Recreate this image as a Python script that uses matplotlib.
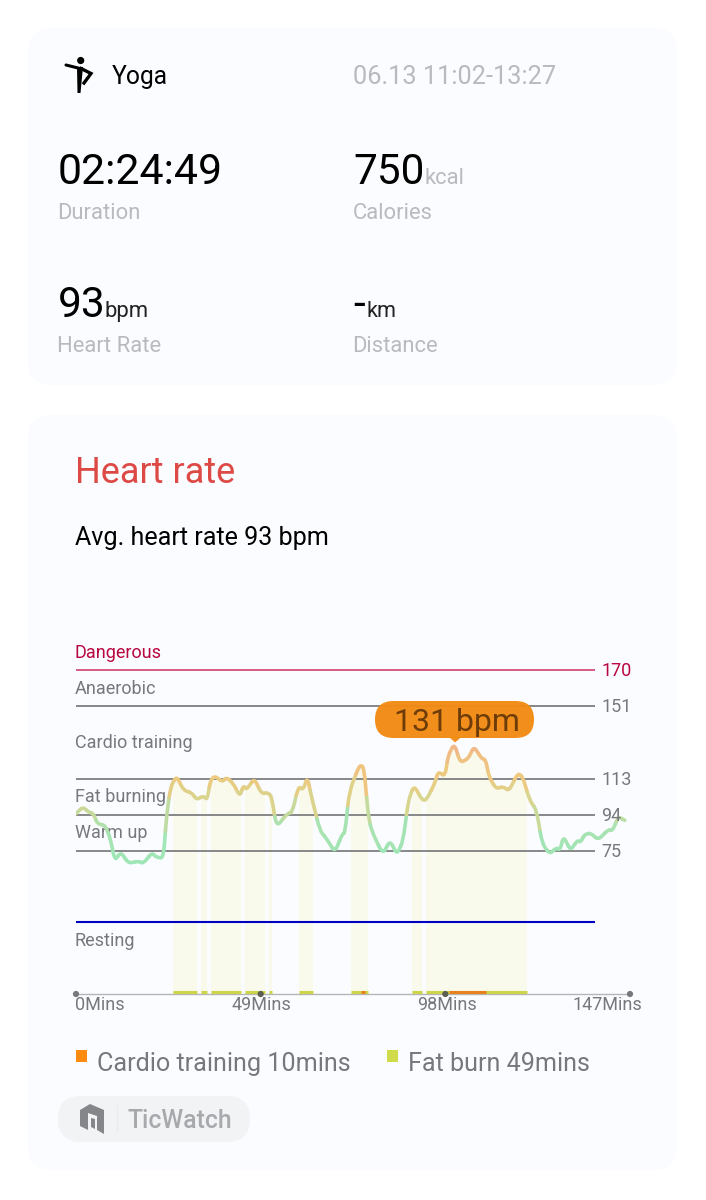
"""
Heart rate workout screen, yoga session
"""
import numpy as np
import matplotlib
matplotlib.use("Agg")
import matplotlib.pyplot as plt
from matplotlib.collections import PathCollection
from matplotlib.colors import LinearSegmentedColormap, Normalize
from matplotlib.patches import Circle, FancyBboxPatch, Polygon, Rectangle
from matplotlib.path import Path

plt.rcParams['font.family'] = ['Roboto', 'DejaVu Sans']

# heart rate curve
minutes = [0, 1.8, 3.3, 4.6, 5.7, 7.7, 9.0, 10.3, 11.9, 13.9, 16.5, 17.9, 20.1, 21.4, 23.2, 24.0,
           25.1, 26.7, 28.5, 30.7, 32.0, 33.8, 34.8, 35.7, 36.9, 38.8, 40.0, 41.7, 43.5, 44.4,
           45.3, 47.3, 49.2, 51.0, 51.9, 53.2, 55.9, 57.4, 59.0, 60.3, 61.4, 62.5, 64.7, 66.5,
           68.7, 70.5, 71.4, 72.5, 75.2, 76.4, 77.5, 78.4, 81.4, 83.3, 85.2, 86.8, 88.2, 89.7,
           91.9, 93.0, 95.0, 96.1, 97.9, 98.8, 100.4, 102.0, 104.1, 105.6, 107.6, 108.7, 109.6,
           111.4, 113.4, 114.9, 117.2, 118.5, 120.4, 122.2, 123.7, 125.7, 127.5, 128.4, 129.4,
           131.2, 133.0, 133.9, 135.0, 136.5, 138.6, 141.2, 142.4, 143.9, 145.6]
bpm = [94.6, 98.1, 95.5, 94.6, 89.3, 88.5, 82.3, 70, 74.4, 68.6, 69.6, 68.6, 74, 71.7, 71.4, 92.9,
       108.7, 114.3, 107, 105.5, 102, 103.8, 102, 112.2, 114.3, 111.3, 113.6, 110.4, 103.8, 109.2,
       107.3, 113.1, 105.2, 105.5, 103.4, 87.6, 94.3, 95.5, 108.7, 107.3, 113.6, 103.4, 85.8, 81.4,
       74.4, 83.2, 85, 106.1, 120.1, 118.9, 94.6, 85.8, 73.2, 80.5, 73.2, 80.5, 101.6, 109.4,
       101.6, 102, 109.6, 116.6, 114.3, 125.4, 131.2, 121.3, 123.6, 129.8, 123.6, 122.8, 114,
       107.8, 108.7, 106.6, 115.7, 114, 101.6, 96.4, 78.8, 73.5, 76.7, 75.6, 82.6,
       75.3, 80.5, 79.7, 83.7, 84.4, 80.9, 86.2, 85.8, 92.9, 91.1]

# time spent in each zone (start, end) in minutes
fat_spans = [(25.8, 32), (33.1, 34.8), (35.7, 43.9), (44.8, 50.1), (51.3, 52), (59.2, 62.8),
             (72.9, 77.4), (89.2, 91.8), (92.8, 119.8)]
cardio_spans = [(75.5, 76.7), (99, 108.9)]

zone_values = [170, 151, 113, 94, 75]
resting_value = 38
peak_minute = 100.4
peak_bpm = 131
x_ticks = [0, 49, 98, 147]
x_labels = ['0Mins', '49Mins', '98Mins', '147Mins']

GREY = '#77787c'
LIGHT = '#b9babe'
CRIMSON = '#b8063f'
LINE_GREY = '#868788'

fig = plt.figure(figsize=(7.06, 12), dpi=100, facecolor='white')

# page layer in pixel coordinates: cards and all the fixed text
page = fig.add_axes([0, 0, 1, 1], zorder=0)
page.set_xlim(0, 706)
page.set_ylim(1200, 0)
page.axis('off')

for top_y, bottom_y in [(28, 385), (415, 1170)]:
    page.add_patch(FancyBboxPatch((28, top_y), 649, bottom_y - top_y, boxstyle='round,pad=0,rounding_size=24',
                                  fc='#fbfcff', ec='none'))


def label(x, y, s, size, color='black', **kw):
    page.text(x, y, s, fontsize=size, color=color, va='baseline', **kw)


# yoga icon
page.add_patch(Circle((80.7, 60.5), 3.6, fc='black', ec='none'))
page.plot([66, 80], [65, 68.5], color='black', lw=2.2, solid_capstyle='round')
page.add_patch(Polygon([(77, 67), (83, 67), (80.5, 93), (77.5, 93)], fc='black', ec='none'))
page.plot([81, 91, 84], [68.5, 73.5, 83], color='black', lw=2.4, solid_joinstyle='miter')

label(112, 84, 'Yoga', 17.7)
label(353, 84, '06.13 11:02-13:27', 18.3, LIGHT)
label(58, 184, '02:24:49', 30.8)
label(57, 219, 'Duration', 15.8, LIGHT)
label(353, 184, '750', 30.5)
label(425, 184, 'kcal', 15.8, LIGHT)
label(353, 219, 'Calories', 15.8, LIGHT)
label(58, 317, '93', 30.5)
label(105, 317, 'bpm', 15.9, '#222222')
label(57, 352, 'Heart Rate', 15.8, LIGHT)
label(353, 317, '-', 30.5)
label(366, 317, 'km', 15.6, '#222222')
label(352, 352, 'Distance', 15.8, LIGHT)

label(75, 483, 'Heart rate', 26, '#dd4a45')
label(75, 545, 'Avg. heart rate 93 bpm', 18.1)

label(75, 658, 'Dangerous', 13, CRIMSON)
for y, name in [(694, 'Anaerobic'), (748, 'Cardio training'), (802, 'Fat burning'),
                (838, 'Warm up'), (946, 'Resting')]:
    label(75, y, name, 13, GREY)

# legend
page.add_patch(Rectangle((76, 1050), 11, 12, fc='#ff8a12', ec='none'))
page.add_patch(Rectangle((387, 1050), 11, 12, fc='#d0db4b', ec='none'))
label(97, 1071, 'Cardio training 10mins', 18.1, GREY)
label(408, 1071, 'Fat burn 49mins', 18.1, GREY)

# watch badge
page.add_patch(FancyBboxPatch((58, 1096), 192, 46, boxstyle='round,pad=0,rounding_size=23',
                              fc='#f2f3f5', ec='none'))
page.add_patch(Polygon([(80, 1110), (90, 1104), (104, 1110), (104, 1134), (97, 1130), (97, 1116),
                        (88, 1113), (88, 1130), (80, 1126)], fc='#85868a', ec='none'))
page.add_patch(Polygon([(91, 1118), (95, 1119), (95, 1129), (91, 1127)], fc='#85868a', ec='none'))
page.plot([117, 117], [1106, 1132], color='#ebecee', lw=1)
label(128, 1128, 'TicWatch', 17.8, '#a8a9ad', fontweight='medium')

# chart layer, x in minutes and y in bpm
# axes span 76..630 px across and 660..994 px down
ax = fig.add_axes([76 / 706, 1 - 994 / 1200, (630 - 76) / 706, (994 - 660) / 1200], zorder=1)
ax.patch.set_alpha(0)
ax.set_xlim(0, 147)
ax.set_ylim(0, 175.2)
ax.axis('off')
line_end = 137.7

for v in zone_values:
    c = '#d85a80' if v == 170 else LINE_GREY
    ax.hlines(v, 0, line_end, color=c, lw=1.4, zorder=2)
    ax.text(139.4, v - 0.7, str(v), fontsize=13, va='center', color=CRIMSON if v == 170 else GREY, zorder=5)
ax.hlines(resting_value, 0, line_end, color='#0000c0', lw=1.5, zorder=2)

# yellow bands only reach up to the curve
under_curve = Polygon(list(zip(minutes, bpm)) + [(minutes[-1], 0), (minutes[0], 0)],
                      closed=True, transform=ax.transData, fc='none', ec='none')
ax.add_patch(under_curve)
for a, b in fat_spans + cardio_spans:
    band = ax.axvspan(a, b, color='#f9f9ec', lw=0, zorder=1)
    band.set_clip_path(under_curve)

# curve coloured by heart rate, corners rounded with bezier pieces through the read points
cmap = LinearSegmentedColormap.from_list('hr', ['#9fe6b6', '#a6e3b2', '#d6d690', '#f0c87e', '#f0b888'])
norm = Normalize(70, 131)
pts = np.column_stack([minutes, bpm])
round_part = 0.35
paths = []
for i in range(len(pts)):
    here = pts[i]
    before = here if i == 0 else here + (pts[i - 1] - here) * round_part
    after = here if i == len(pts) - 1 else here + (pts[i + 1] - here) * round_part
    verts = [before, here, after]
    codes = [Path.MOVETO, Path.CURVE3, Path.CURVE3]
    if i < len(pts) - 1:
        verts.append(pts[i + 1] + (here - pts[i + 1]) * round_part)
        codes.append(Path.LINETO)
    paths.append(Path(verts, codes))
curve = PathCollection(paths, facecolors='none', edgecolors=cmap(norm(bpm)), linewidths=2.6,
                       capstyle='round', joinstyle='round', transform=ax.transData, zorder=3)
ax.add_collection(curve)

# baseline with zone bars and tick dots
ax.hlines(0, 0, 147, color='#b5b5b5', lw=1, zorder=2, clip_on=False)
ax.hlines([0.8] * len(fat_spans), [s[0] for s in fat_spans], [s[1] for s in fat_spans],
          color='#cdd64a', lw=2.2, zorder=3, clip_on=False)
ax.hlines([0.8] * len(cardio_spans), [s[0] for s in cardio_spans], [s[1] for s in cardio_spans],
          color='#e8821e', lw=2.2, zorder=3, clip_on=False)
dot_colors = ['#77787c', '#5a5f50', '#5a5f50', '#77787c']
ax.scatter(x_ticks, [0] * 4, s=20, c=dot_colors, lw=0, zorder=4, clip_on=False)

# tick labels, the two ends do not sit centred on their dots
for t, s, ha, dx in zip(x_ticks, x_labels, ['left', 'center', 'center', 'right'], [-0.3, 0.3, 0.4, 3.2]):
    ax.text(t + dx, -1.2, s, fontsize=13, color=GREY, ha=ha, va='top', clip_on=False)

# peak bubble, size in pixels converted to data units
px_x = 147 / 554
px_y = 175.2 / 334
cx = peak_minute + 0.2
tip_y = peak_bpm + 1
ax.add_patch(Polygon([(cx - 7 * px_x, tip_y + 6 * px_y), (cx + 7 * px_x, tip_y + 6 * px_y), (cx, tip_y)],
                     fc='#f28c14', ec='none', zorder=5, alpha=0.97))
top = fig.add_axes([0, 0, 1, 1], zorder=2)
top.set_xlim(0, 706)
top.set_ylim(1200, 0)
top.axis('off')
top.patch.set_alpha(0)
top.add_patch(FancyBboxPatch((375, 701), 159, 37, boxstyle='round,pad=0,rounding_size=18.5',
                             fc='#f28c14', ec='none', alpha=0.97, zorder=6))
top.text(457, 731, f'{peak_bpm} bpm', fontsize=23, color='#6e3c08', ha='center', va='baseline', zorder=7)

fig.savefig('out.png', dpi=100)
